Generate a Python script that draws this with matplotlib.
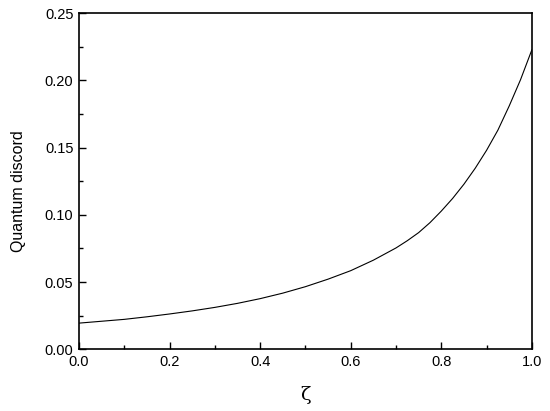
import numpy as np
import matplotlib.pyplot as plt
from matplotlib.ticker import MultipleLocator

plt.rcParams['font.family'] = ['Liberation Sans', 'DejaVu Sans']

# values
zeta = [0.0, 0.05, 0.1, 0.15, 0.2, 0.25, 0.3, 0.35, 0.4, 0.45, 0.5,
        0.55, 0.6, 0.65, 0.7, 0.725, 0.75, 0.775, 0.8, 0.825, 0.85,
        0.875, 0.9, 0.925, 0.95, 0.975, 1.0]
discord = [0.0195, 0.0209, 0.0223, 0.0242, 0.0263, 0.0286, 0.0312, 0.0342,
           0.0377, 0.0418, 0.0466, 0.0522, 0.0585, 0.0663, 0.0754, 0.0808,
           0.0868, 0.0942, 0.1028, 0.1122, 0.1228, 0.1347, 0.1480, 0.1630,
           0.1810, 0.2005, 0.2227]

fig = plt.figure(figsize=(5.5, 4.11), dpi=100, facecolor='w')
ax = fig.add_axes([0.1436, 0.150, 0.8234, 0.818])
ax.plot(zeta, discord, color='k', linewidth=0.8)

ax.set_xlim(0, 1)
ax.set_ylim(0, 0.25)
ax.xaxis.set_major_locator(MultipleLocator(0.2))
ax.xaxis.set_minor_locator(MultipleLocator(0.1))
ax.yaxis.set_major_locator(MultipleLocator(0.05))
ax.yaxis.set_minor_locator(MultipleLocator(0.025))
ax.xaxis.set_major_formatter(plt.FormatStrFormatter('%.1f'))
ax.yaxis.set_major_formatter(plt.FormatStrFormatter('%.2f'))
ax.tick_params(which='both', direction='in', top=False, right=False,
               width=1.0, labelsize=10.5)
ax.tick_params(which='major', length=5, pad=4)
ax.tick_params(which='minor', length=3)
for s in ax.spines.values():
    s.set_linewidth(1.2)

ax.set_ylabel('Quantum discord', fontsize=11.5)
ax.yaxis.set_label_coords(-0.117, 0.47)
ax.set_xlabel('ζ', fontsize=14, family=['DejaVu Serif'], labelpad=12)

fig.savefig('out.png', dpi=100)
